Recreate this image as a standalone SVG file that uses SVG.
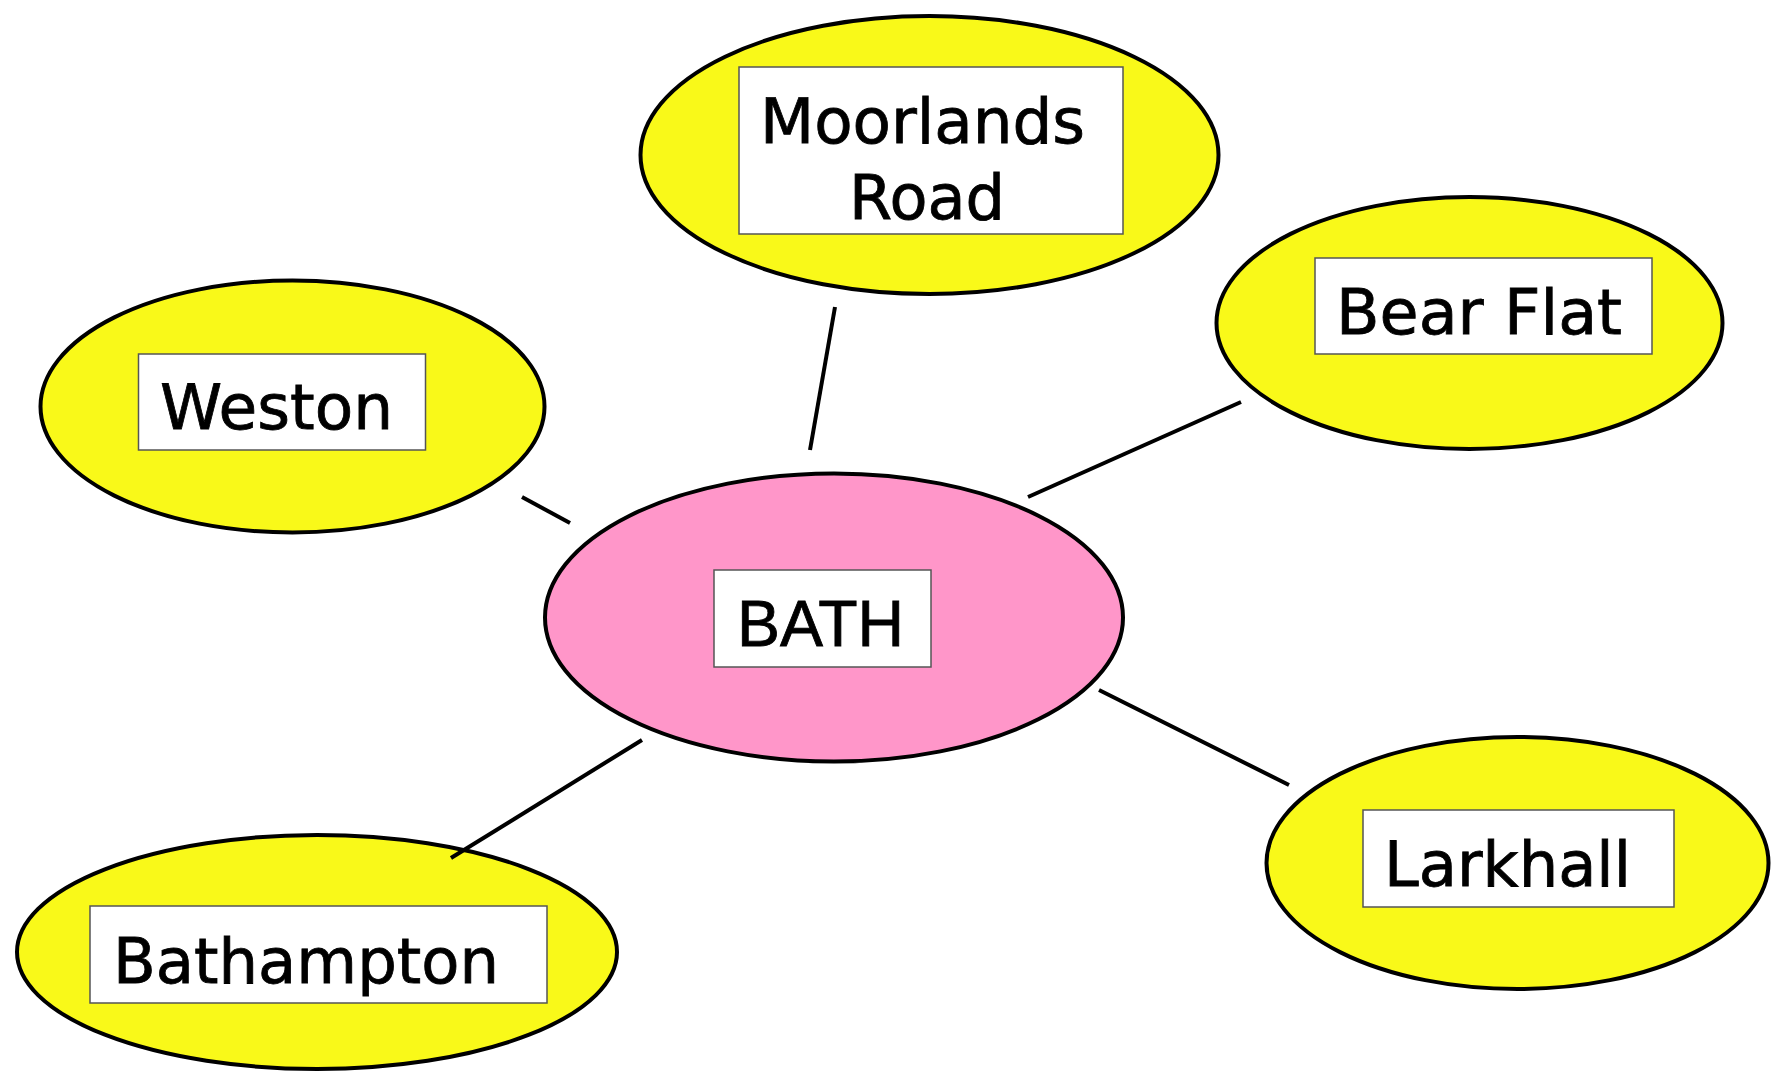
<svg xmlns="http://www.w3.org/2000/svg" width="1771" height="1072" viewBox="0 0 1771 1072">
<style>
.yel{fill:#f9f919;stroke:#000;stroke-width:4}
.pink{fill:#ff96c9;stroke:#000;stroke-width:4}
.box{fill:#fff;stroke:#555;stroke-width:1.5}
.t{font-family:"DejaVu Sans",Verdana,sans-serif;font-size:62px;fill:#000;stroke:#000;stroke-width:0.8}
.tb{font-family:"Liberation Sans",Arial,sans-serif;font-size:64px;fill:#000;stroke:#000;stroke-width:0.8}
.c{stroke:#000;stroke-width:4;fill:none}
</style>
<rect width="1771" height="1072" fill="#fff"/>
<g id="moorlands">
<ellipse class="yel" cx="929.5" cy="155" rx="289" ry="139"/>
<rect class="box" x="739" y="67" width="384" height="167"/>
<text class="t" x="760" y="143" textLength="325" lengthAdjust="spacingAndGlyphs">Moorlands</text>
<text class="t" x="849" y="219" textLength="156" lengthAdjust="spacingAndGlyphs">Road</text>
</g>
<g id="weston">
<ellipse class="yel" cx="292.5" cy="406.5" rx="252" ry="126"/>
<rect class="box" x="138.5" y="354" width="287" height="96"/>
<text class="t" x="160" y="429" textLength="233" lengthAdjust="spacingAndGlyphs">Weston</text>
</g>
<g id="bearflat">
<ellipse class="yel" cx="1469.5" cy="323" rx="253" ry="126"/>
<rect class="box" x="1315" y="258" width="337" height="96"/>
<text class="t" x="1336" y="334" textLength="286" lengthAdjust="spacingAndGlyphs">Bear Flat</text>
</g>
<g id="bath">
<ellipse class="pink" cx="834" cy="617.5" rx="289" ry="144"/>
<rect class="box" x="714" y="570" width="217" height="97"/>
<text class="tb" x="737" y="646" textLength="167" lengthAdjust="spacingAndGlyphs">BATH</text>
</g>
<g id="bathampton">
<ellipse class="yel" cx="317" cy="952" rx="300" ry="117"/>
<rect class="box" x="90" y="906" width="457" height="97"/>
<text class="t" x="113" y="983" textLength="386" lengthAdjust="spacingAndGlyphs">Bathampton</text>
</g>
<g id="larkhall">
<ellipse class="yel" cx="1517.5" cy="863" rx="251" ry="126"/>
<rect class="box" x="1363" y="810" width="311" height="97"/>
<text class="t" x="1384" y="886" textLength="247" lengthAdjust="spacingAndGlyphs">Larkhall</text>
</g>
<g id="connectors">
<line class="c" x1="835" y1="307" x2="810" y2="450"/>
<line class="c" x1="522" y1="497" x2="570" y2="523"/>
<line class="c" x1="1241" y1="402" x2="1028" y2="497"/>
<line class="c" x1="1099" y1="690" x2="1289" y2="785"/>
<line class="c" x1="642" y1="740" x2="451" y2="858"/>
</g>
</svg>
